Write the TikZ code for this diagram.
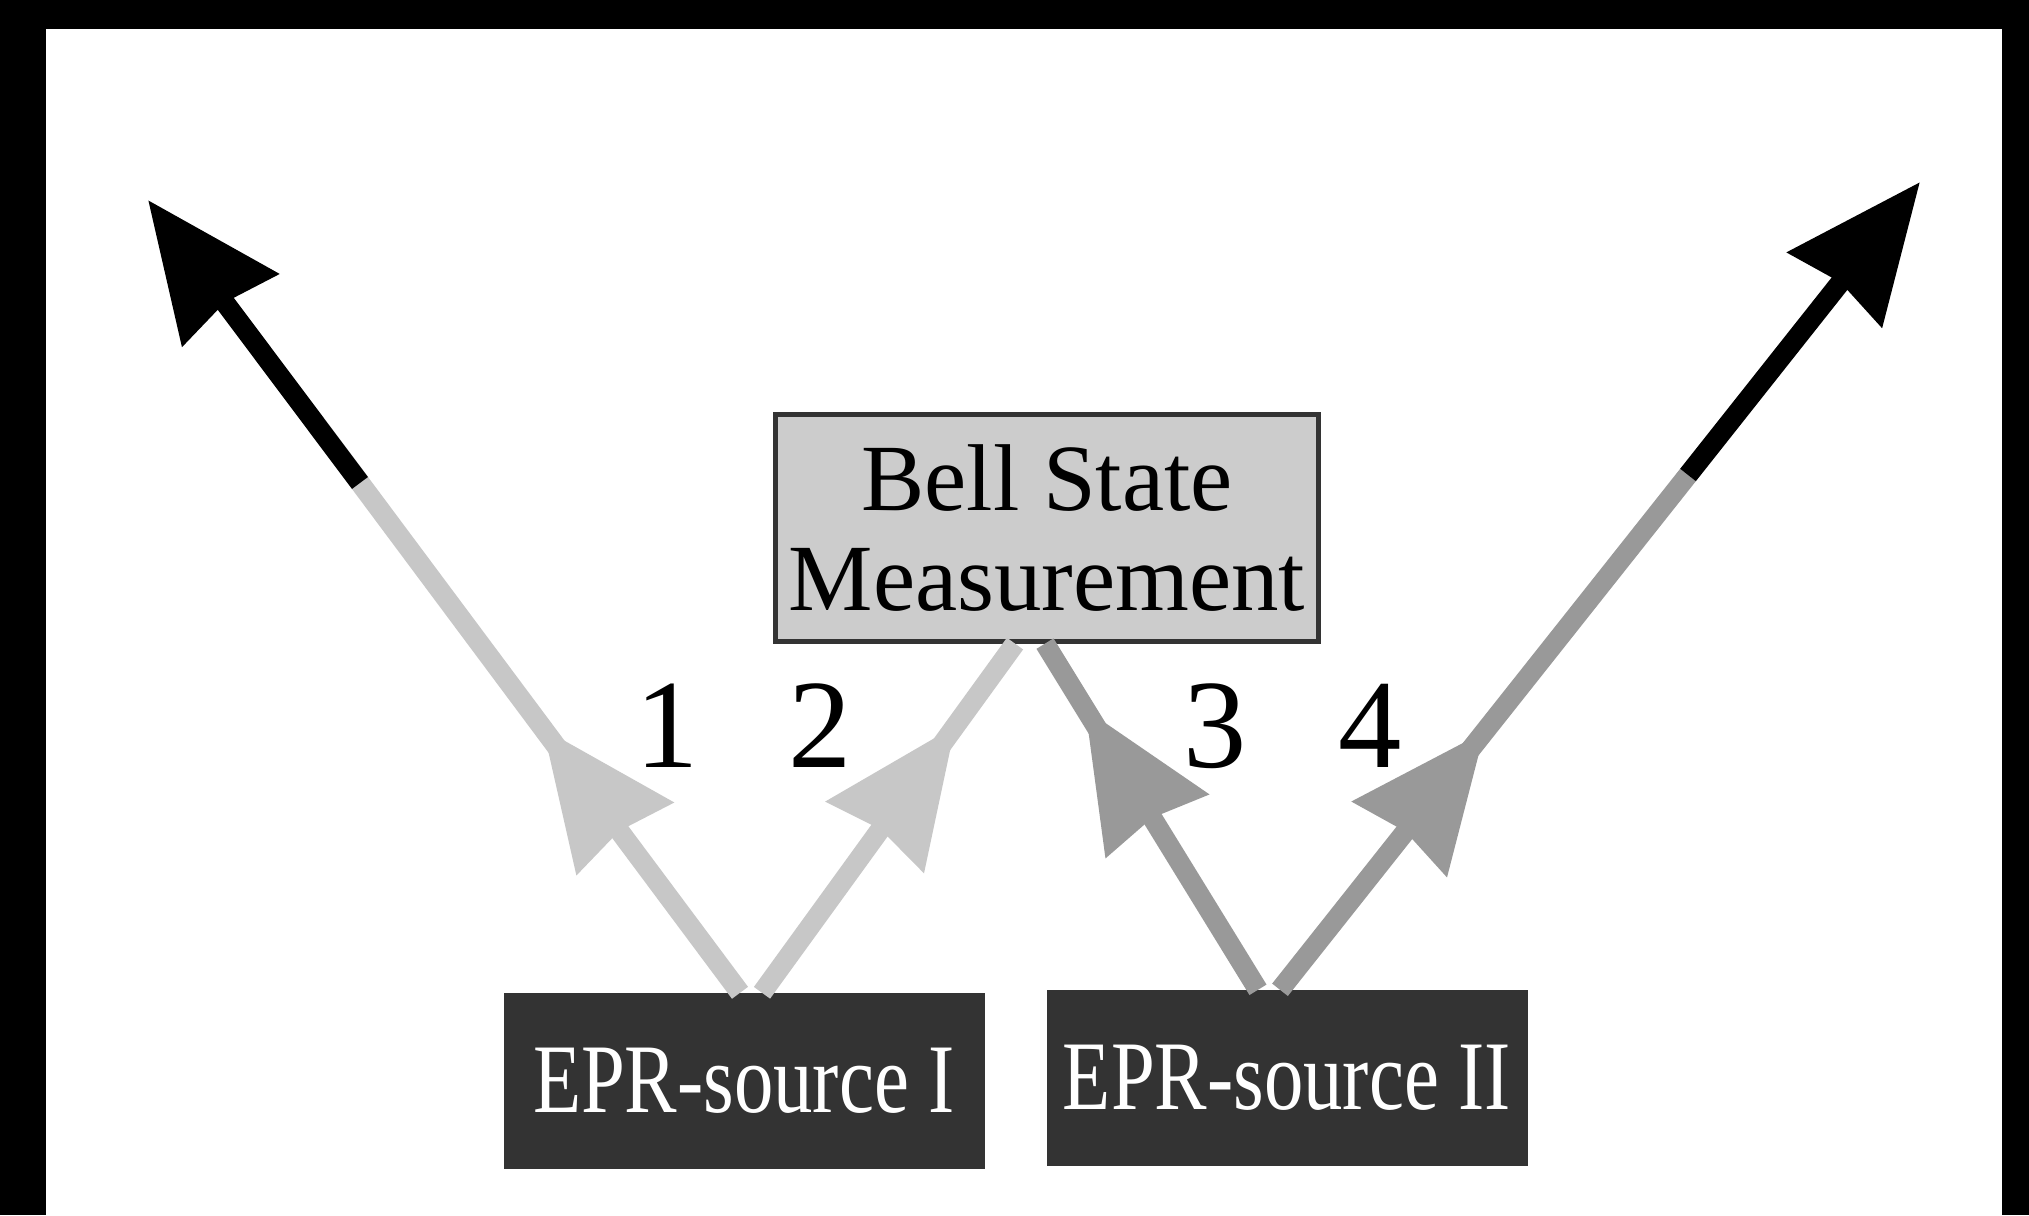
\documentclass[tikz,border=0pt]{standalone}
\usepackage{fontspec}
\setmainfont{Liberation Serif}
\newfontfamily\eprfont[FakeStretch=0.8]{Liberation Serif}
\usetikzlibrary{arrows.meta,decorations.markings}

\begin{document}
\begin{tikzpicture}[
        bsmbox/.style={draw=black!80, line width=1.2pt, fill=black!20, minimum width=5.43cm, minimum height=2.27cm, align=center, inner sep=0pt, font=\fontsize{27}{28.7}\selectfont},
        srcbox/.style={fill=black!80, text=white, minimum width=4.81cm, minimum height=1.75cm, inner sep=0pt, font=\eprfont\fontsize{28}{30}\selectfont},
        num/.style={anchor=base, inner sep=0pt, font=\fontsize{36}{40}\selectfont},
        beam/.style={line width=0.2cm},
        pairA/.style={beam, draw=black!22}, % photons 1 and 2
        pairB/.style={beam, draw=black!40}, % photons 3 and 4
        head/.style={-{Stealth[length=1.36cm, width=1.17cm, inset=0.08cm]}},
        midhead/.style={postaction={decorate, decoration={markings, mark=at position 3.3cm with {\arrow{Stealth[length=1.36cm, width=1.17cm, inset=0.08cm]}}}}}
    ]
    % frame
    \fill[black] (0,0) rectangle (20.29,12.15);
    \fill[white] (0.46,0) rectangle (20.02,11.86);

    \node[bsmbox] (bsm) at (10.47,6.87) {Bell State\\Measurement};
    \node[srcbox] (srcI) at (7.44,1.34) {EPR-source I};
    \node[srcbox] (srcII) at (12.87,1.37) {EPR-source II};

    \node[num] (n1) at (6.67,4.47) {1};
    \node[num] (n2) at (8.20,4.47) {2};
    \node[num] (n3) at (12.15,4.47) {3};
    \node[num] (n4) at (13.70,4.47) {4};

    \coordinate (k1) at (3.60,7.32);
    \coordinate (t1) at (1.48,10.15);
    \coordinate (k4) at (16.88,7.40);
    \coordinate (t4) at (19.20,10.33);

    \draw[pairA, midhead] ([xshift=-0.04cm]srcI.north) -- (k1);
    \draw[beam, head] (k1) -- (t1);
    \draw[pairA, midhead] ([xshift=0.18cm]srcI.north) -- ([xshift=-0.32cm]bsm.south);
    \draw[pairB, midhead] ([xshift=-0.29cm]srcII.north) -- ([xshift=-0.02cm]bsm.south);
    \draw[pairB, midhead] ([xshift=-0.07cm]srcII.north) -- (k4);
    \draw[beam, head] (k4) -- (t4);
\end{tikzpicture}
\end{document}
